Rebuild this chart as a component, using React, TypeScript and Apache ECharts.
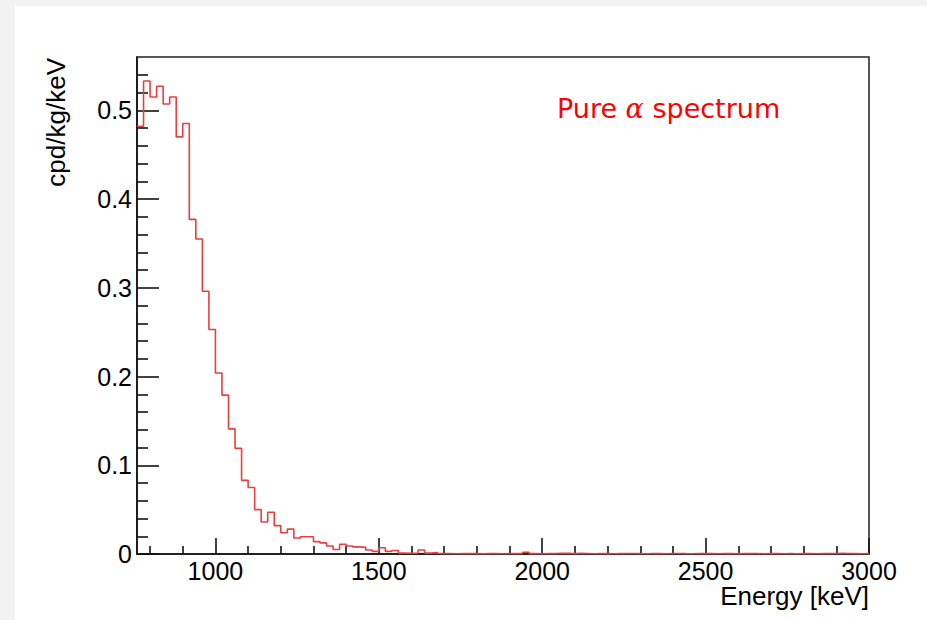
import React, { useEffect, useRef } from "react";
import * as echarts from "echarts";

// Histogram definition (keV)
const BIN_START = 760;
const BIN_WIDTH = 20;

// cpd/kg/keV per 20 keV bin, starting at 760 keV
const rateLow = [
  0.482, 0.533, 0.515, 0.527, 0.507, 0.515, 0.47, 0.485, 0.377, 0.355,
  0.296, 0.253, 0.204, 0.179, 0.141, 0.119, 0.083, 0.075, 0.05, 0.036,
  0.047, 0.032, 0.024, 0.028, 0.018, 0.0195, 0.0195, 0.014, 0.0125, 0.009,
  0.005, 0.011, 0.009, 0.008, 0.0075, 0.0045, 0.003, 0.007, 0.003, 0.004,
  0.001, 0.0008, 0.001, 0.0045, 0.001, 0.0015,
];
const rateTail = [
  0.0005, 0.0005, 0.0003, 0.0006, 0.0004, 0.0005, 0.0003, 0.0004, 0.0005, 0.0003,
  0.0006, 0.0004, 0.0005, 0.002, 0.0004, 0.0003, 0.0005, 0.0004, 0.0008, 0.0007,
  0.0004, 0.0008, 0.0006, 0.0003, 0.0004, 0.0005, 0.0003, 0.0004, 0.0005, 0.0006,
  0.0004, 0.0003, 0.0005, 0.0004, 0.0003, 0.0005, 0.0006, 0.0004, 0.0003, 0.0004,
  0.0005, 0.0004, 0.0003, 0.0005, 0.0004, 0.0003, 0.0006, 0.0004, 0.0005, 0.0003,
  0.0004, 0.0005, 0.0003, 0.0004, 0.0003, 0.0005, 0.0004, 0.0003, 0.0005, 0.0004,
  0.0006, 0.0007, 0.0005, 0.0004, 0.0003, 0.0004,
];

const xMajorTicks = [1000, 1500, 2000, 2500, 3000];
const xMinorTicks = [
  800, 900, 1100, 1200, 1300, 1400, 1600, 1700, 1800, 1900, 2100, 2200,
  2300, 2400, 2600, 2700, 2800, 2900,
];
const yMajorTicks = [0, 0.1, 0.2, 0.3, 0.4, 0.5];
const yMinorTicks = [
  0.02, 0.04, 0.06, 0.08, 0.12, 0.14, 0.16, 0.18, 0.22, 0.24, 0.26, 0.28,
  0.32, 0.34, 0.36, 0.38, 0.42, 0.44, 0.46, 0.48, 0.52, 0.54,
];

const X_MIN = 760;
const X_MAX = 3000;
const Y_MIN = 0;
const Y_MAX = 0.56;

const AXIS_COLOR = "#111111";
const LABEL_FONT = "Liberation Sans";

export default function App() {
  const ref = useRef<HTMLDivElement>(null);

  useEffect(() => {
    if (!ref.current) return;
    const chart = echarts.init(ref.current, undefined, { renderer: "svg" });

    const rates = rateLow.concat(rateTail);
    const points: [number, number][] = [];
    rates.forEach((v, i) => {
      const lo = BIN_START + i * BIN_WIDTH;
      points.push([lo, v]);
      points.push([lo + BIN_WIDTH, v]);
    });

    const tickStyle = { color: AXIS_COLOR, width: 1.6 };

    chart.setOption({
      animation: false,
      backgroundColor: "transparent",
      grid: {
        left: 137,
        right: 58,
        top: 57,
        bottom: 66,
        show: true,
        borderColor: "#222",
        borderWidth: 1.5,
        backgroundColor: "transparent",
      },
      xAxis: [
        {
          type: "value",
          min: X_MIN,
          max: X_MAX,
          position: "bottom",
          axisLine: { show: true, onZero: false, lineStyle: tickStyle },
          axisTick: {
            show: true,
            inside: true,
            length: 16,
            customValues: xMajorTicks,
            lineStyle: tickStyle,
          },
          axisLabel: {
            show: true,
            customValues: xMajorTicks,
            fontSize: 25,
            fontFamily: LABEL_FONT,
            color: "#000",
            margin: 4,
            formatter: (v: number) => String(v),
          },
          splitLine: { show: false },
        },
        {
          type: "value",
          min: X_MIN,
          max: X_MAX,
          position: "bottom",
          axisLine: { show: false, onZero: false },
          axisTick: {
            show: true,
            inside: true,
            length: 8,
            customValues: xMinorTicks,
            lineStyle: tickStyle,
          },
          axisLabel: { show: false },
          splitLine: { show: false },
        },
      ],
      yAxis: [
        {
          type: "value",
          min: Y_MIN,
          max: Y_MAX,
          position: "left",
          axisLine: { show: true, onZero: false, lineStyle: tickStyle },
          axisTick: {
            show: true,
            inside: true,
            length: 22,
            customValues: yMajorTicks,
            lineStyle: tickStyle,
          },
          axisLabel: {
            show: true,
            customValues: yMajorTicks,
            fontSize: 25,
            fontFamily: LABEL_FONT,
            color: "#000",
            margin: 5,
            formatter: (v: number) => String(Math.round(v * 10) / 10),
          },
          splitLine: { show: false },
        },
        {
          type: "value",
          min: Y_MIN,
          max: Y_MAX,
          position: "left",
          axisLine: { show: false, onZero: false },
          axisTick: {
            show: true,
            inside: true,
            length: 11,
            customValues: yMinorTicks,
            lineStyle: tickStyle,
          },
          axisLabel: { show: false },
          splitLine: { show: false },
        },
      ],
      series: [
        {
          type: "line",
          xAxisIndex: 0,
          yAxisIndex: 0,
          data: points,
          symbol: "none",
          clip: true,
          lineStyle: { color: "#e8403f", width: 1.6 },
          z: 1,
        },
      ],
      graphic: [
        {
          type: "text",
          x: 869,
          y: 596,
          style: {
            text: "Energy [keV]",
            fontSize: 26,
            fontFamily: LABEL_FONT,
            fill: "#000",
            align: "right",
            verticalAlign: "middle",
          },
        },
        {
          type: "text",
          x: 56,
          y: 58,
          rotation: Math.PI / 2,
          style: {
            text: "cpd/kg/keV",
            fontSize: 26,
            fontFamily: LABEL_FONT,
            fill: "#000",
            align: "right",
            verticalAlign: "middle",
          },
        },
        {
          type: "text",
          x: 557,
          y: 108,
          style: {
            text: "{n|Pure }{a|α}{n| spectrum}",
            verticalAlign: "middle",
            align: "left",
            rich: {
              n: {
                fontSize: 27,
                fontFamily: "DejaVu Sans",
                fill: "#ff0000",
                color: "#ff0000",
              },
              a: {
                fontSize: 27,
                fontFamily: "DejaVu Serif",
                fontStyle: "italic",
                fill: "#ff0000",
                color: "#ff0000",
              },
            },
          },
        },
      ],
    });

    return () => chart.dispose();
  }, []);

  return (
    <div
      style={{
        position: "fixed",
        left: 0,
        top: 0,
        width: 927,
        height: 620,
        background: "#f2f2f2",
        overflow: "hidden",
      }}
    >
      <div
        style={{
          position: "absolute",
          left: 15,
          top: 6,
          right: 0,
          bottom: 0,
          background: "#ffffff",
        }}
      />
      <div
        ref={ref}
        style={{ position: "absolute", left: 0, top: 0, width: 927, height: 620 }}
      />
    </div>
  );
}
